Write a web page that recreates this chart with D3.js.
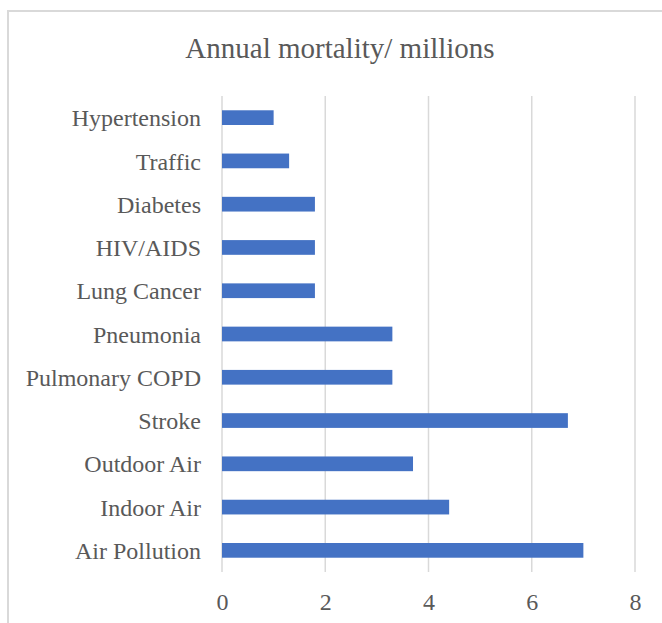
<!DOCTYPE html>
<html>
<head>
<meta charset="utf-8">
<script src="https://cdn.jsdelivr.net/npm/d3@7"></script>
<style>
  html, body { margin: 0; padding: 0; background: #fff; }
  svg { display: block; }
</style>
</head>
<body>
<svg id="chart" width="662" height="623"></svg>
<script>
// Causes of death, listed bottom-to-top as drawn
const categories = ["Air Pollution", "Indoor Air", "Outdoor Air", "Stroke", "Pulmonary COPD",
                    "Pneumonia", "Lung Cancer", "HIV/AIDS", "Diabetes", "Traffic", "Hypertension"];
const deaths = [7.0, 4.4, 3.7, 6.7, 3.3, 3.3, 1.8, 1.8, 1.8, 1.3, 1.0];
const xTicks = [0, 2, 4, 6, 8];
const title = "Annual mortality/ millions";

const svg = d3.select("#chart");
const font = "'Liberation Serif', 'Times New Roman', serif";
const textColor = "#595959";

// chart frame
svg.append("rect")
  .attr("x", 8).attr("y", 11)
  .attr("width", 700).attr("height", 700)
  .attr("fill", "#fff")
  .attr("stroke", "#d9d9d9").attr("stroke-width", 2);

const plot = { left: 222, right: 635, top: 96, bottom: 572 };

const x = d3.scaleLinear().domain([0, 8]).range([plot.left, plot.right]);
const y = d3.scaleBand()
  .domain(categories.slice().reverse())
  .range([plot.top, plot.bottom])
  .paddingInner(0.66).paddingOuter(0.33);

// vertical gridlines
svg.append("g")
  .selectAll("line")
  .data(xTicks)
  .join("line")
  .attr("x1", d => x(d)).attr("x2", d => x(d))
  .attr("y1", plot.top).attr("y2", plot.bottom)
  .attr("stroke", "#d9d9d9").attr("stroke-width", 1.5);

// bars
svg.append("g")
  .selectAll("rect")
  .data(categories.map((c, i) => ({ c, v: deaths[i] })))
  .join("rect")
  .attr("x", x(0))
  .attr("y", d => y(d.c))
  .attr("width", d => x(d.v) - x(0))
  .attr("height", y.bandwidth())
  .attr("fill", "#4472c4");

// x axis labels
const xAxis = d3.axisBottom(x).tickValues(xTicks).tickSize(0).tickPadding(0).tickFormat(d3.format("d"));
const gx = svg.append("g").attr("transform", `translate(0,${plot.bottom + 38})`).call(xAxis);
gx.select(".domain").remove();
gx.selectAll("text")
  .attr("dy", 0)
  .attr("font-family", font).attr("font-size", 24).attr("fill", textColor);

// category labels
const yAxis = d3.axisLeft(y).tickSize(0).tickPadding(0);
const gy = svg.append("g").attr("transform", `translate(${plot.left - 21},0)`).call(yAxis);
gy.select(".domain").remove();
gy.selectAll("text")
  .attr("dy", "0.36em")
  .attr("font-family", font).attr("font-size", 24).attr("fill", textColor);

// title
svg.append("text")
  .attr("x", 340).attr("y", 58)
  .attr("text-anchor", "middle")
  .attr("font-family", font).attr("font-size", 29)
  .attr("fill", textColor)
  .text(title);
</script>
</body>
</html>
